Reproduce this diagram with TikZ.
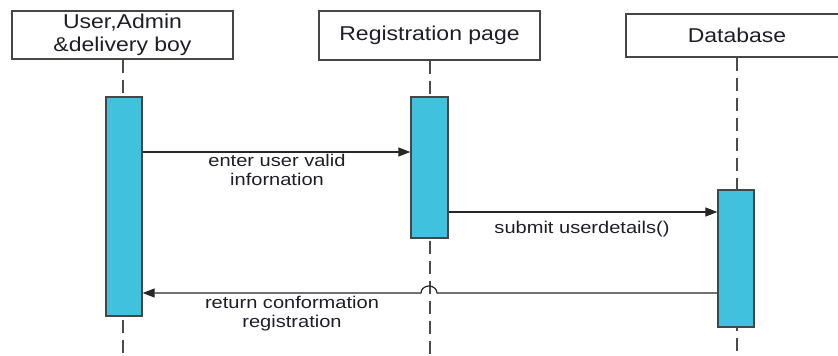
\documentclass[tikz,border=0pt]{standalone}
\usepackage{fontspec}
\setmainfont{Liberation Sans}
\newfontfamily\titlefont[FakeStretch=1.15]{Liberation Sans}
\newfontfamily\msgfont[FakeStretch=1.18]{Liberation Sans}
\usetikzlibrary{arrows.meta}
\definecolor{actfill}{RGB}{64,193,222}
\definecolor{edge}{RGB}{70,70,70}
\definecolor{life}{RGB}{75,75,75}
\definecolor{txt}{RGB}{30,30,40}
\tikzset{
  objbox/.style={draw=edge, line width=1.3pt, fill=white, minimum width=221pt, inner sep=0pt,
    align=center, text=txt, font=\titlefont\fontsize{20}{23}\selectfont},
  actbox/.style={draw=edge, line width=1.3pt, fill=actfill, minimum width=36pt, inner sep=0pt},
  lifeline/.style={draw=life, line width=2pt, dash pattern=on 13pt off 7pt},
  msg/.style={draw=black!85, line width=1.2pt, -{Triangle[length=12pt,width=9pt]}},
  msglabel/.style={align=center, text=txt, inner sep=0pt, font=\msgfont\fontsize{17}{19.5}\selectfont}
}
\begin{document}
\begin{tikzpicture}[x=1pt,y=-1pt]
\useasboundingbox (0,0) rectangle (838,356);
\clip (0,0) rectangle (838,356);
\coordinate (bot) at (0,356);
\coordinate (m1) at (0,152);
\coordinate (m2) at (0,212);
\coordinate (m3) at (0,293);
% objects
\node[objbox, minimum height=48pt] (b1) at (122.5,35) {User,Admin\\\&delivery boy};
\node[objbox, minimum height=49pt] (b2) at (429.5,35.5) {\raisebox{-1.5pt}{Registration page}};
\node[objbox, minimum height=43pt, minimum width=222pt] (b3) at (737,35.5) {Database};
% lifelines
\draw[lifeline] (b1.south) -- (b1.south |- bot);
\draw[lifeline] (b2.south) -- (b2.south |- bot);
\draw[lifeline] (b3.south) -- (b3.south |- bot);
% activations
\node[actbox, minimum height=219pt] (a1) at (124,206.5) {};
\node[actbox, minimum height=141pt, minimum width=37pt] (a2) at (429.5,167.5) {};
\node[actbox, minimum height=137pt] (a3) at (736,258.5) {};
% messages
\draw[msg] (a1.east |- m1) -- (a2.west |- m1);
\draw[msg] (a2.east |- m2) -- (a3.west |- m2);
\coordinate (j1) at (437,293);
\draw[msg] (a3.west |- m3) -- (j1) arc[start angle=0, end angle=-180, x radius=8, y radius=7] -- (a1.east |- m3);
% labels
\node[msglabel] (l1) at (277,170) {enter user valid\\infornation};
\node[msglabel] (l2) at (582,229) {submit userdetails()};
\node[msglabel] (l3) at (292,313.5) {return conformation\\registration};
\end{tikzpicture}
\end{document}
